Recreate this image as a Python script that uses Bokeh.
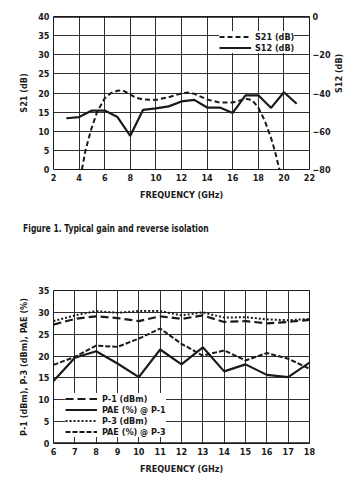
import math
from bokeh.plotting import figure
from bokeh.models import Range1d, LinearAxis, FixedTicker, Legend, LegendItem, Span, Div
from bokeh.layouts import column
from bokeh.embed import file_html
from bokeh.resources import INLINE

FONT = "'Liberation Sans Narrow', 'DejaVu Sans Condensed', 'Roboto Condensed', sans-serif"
INK = "#1a1a1a"

# ---- Figure 1: gain and reverse isolation ----
s21_freq = [4.22, 4.5, 4.9, 5.4, 6.0, 6.5, 7.0, 7.4, 8.0, 8.5, 9.0, 10.0, 11.0, 12.0, 12.5,
            13.0, 14.0, 15.0, 16.0, 16.5, 17.0, 17.5, 18.0, 18.5, 19.0, 19.3, 19.65]
s21_db = [0, 5, 10, 15, 18.6, 20.0, 20.6, 20.7, 19.6, 18.7, 18.3, 18.2, 18.9, 19.9, 20.1,
          19.8, 18.3, 17.5, 17.5, 18.0, 18.5, 18.2, 16.2, 12.8, 8.2, 4.8, 0]
s12_freq = [3, 4, 5, 6, 7, 8, 9, 10, 11, 12, 13, 14, 15, 16, 17, 18, 19, 20, 21]
s12_db = [-53.2, -52.6, -49.2, -49.2, -52.6, -62.4, -48.8, -48.0, -47.0, -44.4, -43.6,
          -47.6, -47.6, -50.4, -41.2, -41.2, -47.8, -39.6, -45.6]
x1_ticks = [2, 4, 6, 8, 10, 12, 14, 16, 18, 20, 22]
y1_ticks = [0, 5, 10, 15, 20, 25, 30, 35, 40]
y1r_ticks = [-80, -60, -40, -20, 0]
caption = "Figure 1. Typical gain and reverse isolation"

# ---- Figure 2: power and PAE ----
f2_freq = [6, 7, 8, 9, 10, 11, 12, 13, 14, 15, 16, 17, 18]
p1_dbm = [27.2, 28.5, 29.1, 28.7, 28.0, 29.1, 28.5, 29.3, 27.8, 28.0, 27.5, 27.8, 28.3]
pae_p1 = [14.3, 19.6, 21.1, 18.3, 15.2, 21.5, 18.1, 22.0, 16.5, 18.1, 15.7, 15.2, 18.5]
p3_dbm = [28.0, 29.3, 30.3, 29.9, 30.3, 30.3, 29.3, 30.0, 28.8, 28.9, 28.4, 28.2, 28.5]
pae_p3 = [18.0, 19.8, 22.4, 22.1, 24.0, 26.3, 22.8, 20.1, 21.3, 19.0, 20.7, 19.4, 17.1]
x2_ticks = [6, 7, 8, 9, 10, 11, 12, 13, 14, 15, 16, 17, 18]
y2_ticks = [0, 5, 10, 15, 20, 25, 30, 35]


def style_axis(ax, ticks, label_standoff, title_standoff):
    ax.ticker = FixedTicker(ticks=ticks)
    ax.major_label_text_font = FONT
    ax.major_label_text_font_style = "bold"
    ax.major_label_text_font_size = "9px"
    ax.major_label_text_color = INK
    ax.axis_label_text_font = FONT
    ax.axis_label_text_font_style = "bold"
    ax.axis_label_text_font_size = "9px"
    ax.axis_label_text_color = INK
    ax.major_tick_out = 0
    ax.major_tick_in = 0
    ax.minor_tick_out = 0
    ax.minor_tick_in = 0
    ax.axis_line_color = None
    ax.major_label_standoff = label_standoff
    ax.axis_label_standoff = title_standoff


def style_fig(p):
    p.outline_line_color = INK
    p.outline_line_width = 1
    p.outline_line_alpha = 1
    p.background_fill_color = "white"
    p.border_fill_color = "white"
    for g in (p.xgrid, p.ygrid):
        g.grid_line_color = INK
        g.grid_line_width = 1
        g.grid_line_alpha = 0.9


def style_legend(lg, standoff):
    lg.label_text_font = FONT
    lg.label_text_font_style = "bold"
    lg.label_text_font_size = "9px"
    lg.label_text_color = INK
    lg.glyph_width = 32
    lg.glyph_height = 11
    lg.label_height = 11
    lg.spacing = 0
    lg.padding = 4
    lg.margin = 0
    lg.label_standoff = standoff
    lg.border_line_color = None
    lg.background_fill_color = "white"
    lg.background_fill_alpha = 1


# ---------------- top figure ----------------
p1 = figure(width=352, height=205, output_backend="svg", toolbar_location=None,
            x_range=Range1d(2, 22), y_range=Range1d(0, 40),
            min_border_left=53, min_border_right=43, min_border_top=16, min_border_bottom=36)
p1.extra_y_ranges = {"s12": Range1d(-80, 0)}
style_fig(p1)
p1.xaxis.axis_label = "FREQUENCY (GHz)"
p1.yaxis.axis_label = "S21 (dB)"
style_axis(p1.xaxis[0], x1_ticks, 4, 6)
style_axis(p1.yaxis[0], y1_ticks, 4, 6)
p1.xgrid.ticker = FixedTicker(ticks=x1_ticks)
p1.ygrid.ticker = FixedTicker(ticks=y1_ticks)
ax_r = LinearAxis(y_range_name="s12", axis_label="S12 (dB)")
style_axis(ax_r, y1r_ticks, 3, 5)
ax_r.axis_label_orientation = math.pi / 2
p1.add_layout(ax_r, "right")
p1.add_layout(Span(location=40, dimension="width", line_color=INK, line_width=2.5))

r_s21 = p1.line(s21_freq, s21_db, line_color=INK, line_width=2, line_dash="5 3")
r_s12 = p1.line(s12_freq, s12_db, y_range_name="s12", line_color=INK, line_width=2.2)
leg1 = Legend(items=[LegendItem(label="S21 (dB)", renderers=[r_s21]),
                     LegendItem(label="S12 (dB)", renderers=[r_s12])],
              location=(166, 116))
style_legend(leg1, 4)
p1.add_layout(leg1, "center")

# ---------------- caption ----------------
cap = Div(text=caption, width=352, height=45, margin=(0, 0, 0, 0),
          styles={"font-family": FONT, "font-weight": "bold", "font-size": "11px",
                  "font-stretch": "condensed", "color": INK, "padding-left": "30px",
                  "padding-top": "18px", "line-height": "12px", "box-sizing": "border-box",
                  "background": "white", "transform": "scaleX(0.77)",
                  "transform-origin": "left top", "white-space": "nowrap"})

# ---------------- bottom figure ----------------
p2 = figure(width=352, height=234, output_backend="svg", toolbar_location=None,
            x_range=Range1d(6, 18), y_range=Range1d(0, 35),
            min_border_left=52, min_border_right=42, min_border_top=40, min_border_bottom=41)
style_fig(p2)
p2.xaxis.axis_label = "FREQUENCY (GHz)"
p2.yaxis.axis_label = "P-1 (dBm), P-3 (dBm), PAE (%)"
style_axis(p2.xaxis[0], x2_ticks, 4, 6)
style_axis(p2.yaxis[0], y2_ticks, 4, 6)
p2.xgrid.ticker = FixedTicker(ticks=x2_ticks)
p2.ygrid.ticker = FixedTicker(ticks=y2_ticks)
p2.add_layout(Span(location=0, dimension="width", line_color=INK, line_width=2.5))

r_p1 = p2.line(f2_freq, p1_dbm, line_color=INK, line_width=2.2, line_dash="8 4")
r_pae1 = p2.line(f2_freq, pae_p1, line_color=INK, line_width=2.2)
r_p3 = p2.line(f2_freq, p3_dbm, line_color=INK, line_width=2, line_dash="2 2")
r_pae3 = p2.line(f2_freq, pae_p3, line_color=INK, line_width=2, line_dash="5 2")
leg2 = Legend(items=[LegendItem(label="P-1 (dBm)", renderers=[r_p1]),
                     LegendItem(label="PAE (%) @ P-1", renderers=[r_pae1]),
                     LegendItem(label="P-3 (dBm)", renderers=[r_p3]),
                     LegendItem(label="PAE (%) @ P-3", renderers=[r_pae3])],
              location=(12, 6))
style_legend(leg2, 5)
p2.add_layout(leg2, "center")

layout = column(p1, cap, p2, spacing=0)
open("out.html", "w").write(file_html(layout, INLINE))
